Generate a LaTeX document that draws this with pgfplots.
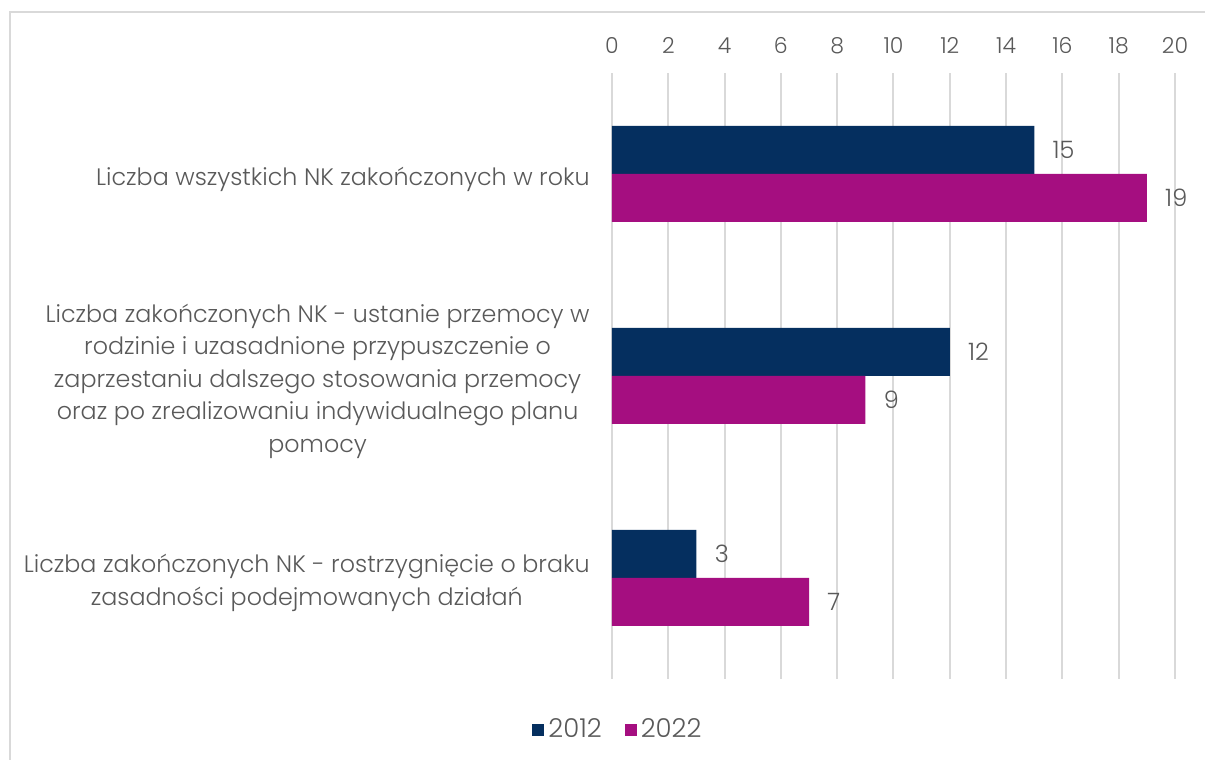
\documentclass[border=0pt]{standalone}
\usepackage{fontspec}
\setmainfont{Poppins}[UprightFont=* Light]
\usepackage{pgfplots}
\pgfplotsset{compat=1.18}
\definecolor{navy}{HTML}{052F5F}
\definecolor{magenta}{HTML}{A50E80}
\definecolor{txt}{HTML}{595959}
\definecolor{gridc}{HTML}{D9D9D9}
\newcommand{\lbl}{\fontsize{11.9}{16.25}\selectfont}
\newcommand{\num}{\fontsize{11}{13}\selectfont}
\begin{document}
\begin{tikzpicture}
\useasboundingbox (0,0) rectangle (602.5pt,380pt);
\draw[gridc, line width=1pt] (5pt,0) -- (5pt,374pt) -- (602.5pt,374pt);
\begin{axis}[
    at={(306pt,40.5pt)}, anchor=south west,
    scale only axis, width=281.5pt, height=303pt,
    xbar, bar width=24pt,
    xmin=0, xmax=20, ymin=-0.5, ymax=2.5,
    xtick={0,2,...,20}, xticklabel pos=upper,
    ytick={0,1,2},
    yticklabels={{Liczba zakończonych NK - rostrzygnięcie o braku\\zasadności podejmowanych działań},
                 {Liczba zakończonych NK - ustanie przemocy w\\rodzinie i uzasadnione przypuszczenie o\\zaprzestaniu dalszego stosowania przemocy\\oraz po zrealizowaniu indywidualnego planu\\pomocy},
                 {Liczba wszystkich NK zakończonych w roku}},
    axis line style={draw=none}, major tick length=0pt,
    xmajorgrids, grid style={gridc, line width=1pt},
    /pgf/number format/assume math mode=true,
    ticklabel style={text=txt, inner sep=0pt},
    xticklabel style={font=\num, yshift=9.5pt},
    yticklabel style={font=\lbl, align=center, xshift=-11pt, yshift=-2.5pt},
    nodes near coords,
    every node near coord/.append style={font=\fontsize{12}{14}\selectfont, text=txt, anchor=west, inner sep=0pt, xshift=9pt},
    legend columns=2,
    legend style={at={(0.0124,-0.084)}, anchor=center, draw=none, fill=none,
        font=\fontsize{13}{15}\selectfont, text=txt,
        /tikz/every even column/.append style={column sep=9.5pt}},
    legend cell align=left,
    legend image code/.code={\fill[#1] (0pt,-3pt) rectangle (6pt,3pt);},
]
\addplot[fill=navy, draw=none, bar shift=12pt] coordinates {(3,0) (12,1) (15,2)};
\addlegendentry{2012}
\addplot[fill=magenta, draw=none, bar shift=-12pt] coordinates {(7,0) (9,1) (19,2)};
\addlegendentry{2022}
\end{axis}
\end{tikzpicture}
\end{document}
